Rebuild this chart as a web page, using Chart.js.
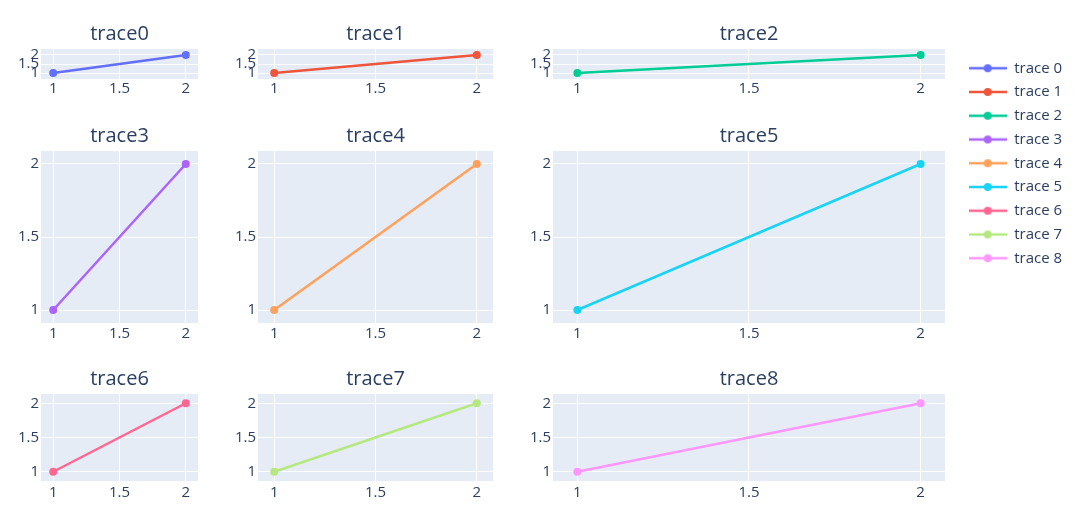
<!DOCTYPE html>
<html><head><meta charset="utf-8">
<script src="https://cdn.jsdelivr.net/npm/chart.js@4"></script>
<style>
body{margin:0;background:#fff;width:1087px;height:525px;position:relative;overflow:hidden}
canvas{position:absolute}
</style>
</head><body>
<script>
// ---- data ----
const xValues = [1, 2];
const trace0 = [1, 2];
const trace1 = [1, 2];
const trace2 = [1, 2];
const trace3 = [1, 2];
const trace4 = [1, 2];
const trace5 = [1, 2];
const trace6 = [1, 2];
const trace7 = [1, 2];
const trace8 = [1, 2];
const seriesValues = [trace0, trace1, trace2, trace3, trace4, trace5, trace6, trace7, trace8];
const traceNames = ['trace 0','trace 1','trace 2','trace 3','trace 4','trace 5','trace 6','trace 7','trace 8'];
const subplotTitles = ['trace0','trace1','trace2','trace3','trace4','trace5','trace6','trace7','trace8'];
const tickValues = [1, 1.5, 2];
const tickLabels = ['1', '1.5', '2'];

// ---- styles / layout ----
const colors = ['#636efa','#EF553B','#00cc96','#ab63fa','#FFA15A','#19d3f3','#FF6692','#B6E880','#FF97FF'];
const TEXT = '#2a3f5f';
const FONT = "'Open Sans', Verdana, Arial, sans-serif";
const colBoxes = [
  {l: 41,  r: 198, min: 0.908, max: 2.092},
  {l: 258, r: 493, min: 0.920, max: 2.080},
  {l: 553, r: 945, min: 0.929, max: 2.071}
];
const rowBoxes = [
  {t: 49,  b: 79,  min: 0.675, max: 2.325, pad: 1},
  {t: 151, b: 323, min: 0.911, max: 2.089, pad: 2},
  {t: 394, b: 481, min: 0.865, max: 2.135, pad: 3}
];
const Y_AXIS_W = 40, X_AXIS_H = 24, TITLE_SIZE = 20, TITLE_PB = 3;
const TITLE_H = Math.round(TITLE_SIZE * 1.2) + TITLE_PB;

const bgPlugin = {
  id: 'plotbg',
  beforeDraw(c) {
    const a = c.chartArea, ctx = c.ctx;
    ctx.save();
    ctx.fillStyle = '#E5ECF6';
    ctx.fillRect(a.left, a.top, a.right - a.left, a.bottom - a.top);
    ctx.restore();
  }
};

function addCanvas(left, top, w, h) {
  const cv = document.createElement('canvas');
  cv.width = w; cv.height = h;
  cv.style.left = left + 'px'; cv.style.top = top + 'px';
  cv.style.width = w + 'px'; cv.style.height = h + 'px';
  document.body.appendChild(cv);
  return cv;
}
function zeroPad(s) { s.paddingLeft = 0; s.paddingRight = 0; s.paddingTop = 0; s.paddingBottom = 0; }

for (let i = 0; i < 9; i++) {
  const row = rowBoxes[Math.floor(i / 3)], col = colBoxes[i % 3];
  const w = Y_AXIS_W + (col.r - col.l);
  const h = TITLE_H + (row.b - row.t) + X_AXIS_H;
  const cv = addCanvas(col.l - Y_AXIS_W, row.t - TITLE_H, w, h);
  const tickFont = {family: FONT, size: 15};
  new Chart(cv, {
    type: 'line',
    data: {
      datasets: [{
        label: traceNames[i],
        data: xValues.map((x, j) => ({x: x, y: seriesValues[i][j]})),
        borderColor: colors[i],
        backgroundColor: colors[i],
        borderWidth: 2.5,
        pointRadius: 4,
        pointHoverRadius: 4,
        pointBorderWidth: 0,
        tension: 0,
        fill: false
      }]
    },
    options: {
      responsive: false,
      animation: false,
      events: [],
      devicePixelRatio: 1,
      layout: {padding: 0, autoPadding: false},
      plugins: {
        legend: {display: false},
        tooltip: {enabled: false},
        title: {
          display: true,
          text: subplotTitles[i],
          color: TEXT,
          fullSize: false,
          font: {family: FONT, size: TITLE_SIZE, weight: 'normal', lineHeight: 1.2},
          padding: {top: 0, bottom: TITLE_PB}
        }
      },
      scales: {
        x: {
          type: 'linear', min: col.min, max: col.max,
          afterBuildTicks: s => { s.ticks = tickValues.map(v => ({value: v})); },
          afterFit: s => { s.height = X_AXIS_H; zeroPad(s); },
          ticks: {autoSkip: false, maxRotation: 0, padding: row.pad, color: TEXT, font: tickFont,
                  callback: (v, idx) => tickLabels[idx]},
          grid: {color: '#ffffff', lineWidth: 1, drawTicks: false},
          border: {display: false}
        },
        y: {
          type: 'linear', min: row.min, max: row.max,
          afterBuildTicks: s => { s.ticks = tickValues.map(v => ({value: v})); },
          afterFit: s => { s.width = Y_AXIS_W; zeroPad(s); },
          ticks: {autoSkip: false, padding: 2, color: TEXT, font: tickFont,
                  callback: (v, idx) => tickLabels[idx]},
          grid: {color: '#ffffff', lineWidth: 1, drawTicks: false},
          border: {display: false}
        }
      }
    },
    plugins: [bgPlugin]
  });
}

// ---- legend ----
function legendSwatch(color) {
  const c = document.createElement('canvas');
  c.width = 38; c.height = 10;
  const ctx = c.getContext('2d');
  ctx.strokeStyle = color; ctx.lineWidth = 2.5;
  ctx.beginPath(); ctx.moveTo(0, 5); ctx.lineTo(38, 5); ctx.stroke();
  ctx.fillStyle = color;
  ctx.beginPath(); ctx.arc(19, 5, 4, 0, Math.PI * 2); ctx.fill();
  return c;
}
const swatches = colors.map(legendSwatch);
const LEG_FONT = 15, LEG_PAD = 8.75;
const legCanvas = addCanvas(960, 52, 125, 470);
new Chart(legCanvas, {
  type: 'line',
  data: {datasets: traceNames.map((n, i) => ({label: n, data: [], borderColor: colors[i], backgroundColor: colors[i]}))},
  options: {
    responsive: false, animation: false, events: [], devicePixelRatio: 1,
    layout: {padding: 0},
    scales: {x: {display: false}, y: {display: false}},
    plugins: {
      tooltip: {enabled: false},
      legend: {
        display: true, position: 'top', align: 'start', maxHeight: 1000,
        labels: {
          usePointStyle: true, pointStyleWidth: 38, padding: LEG_PAD, color: TEXT,
          font: {family: FONT, size: LEG_FONT},
          generateLabels: ch => ch.data.datasets.map((d, i) => ({
            text: d.label, fillStyle: colors[i], strokeStyle: colors[i], lineWidth: 0,
            pointStyle: swatches[i], fontColor: TEXT, hidden: false, datasetIndex: i
          }))
        }
      }
    }
  }
});
</script>
</body></html>
